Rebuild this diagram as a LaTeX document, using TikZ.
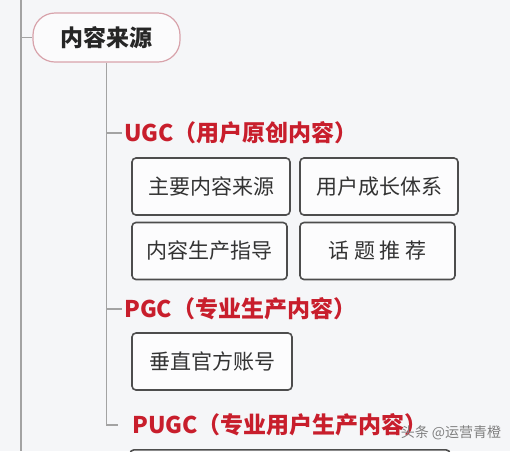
\documentclass[tikz,border=0pt]{standalone}
\usepackage{fontspec}
\newfontfamily\cjk{Noto Sans CJK SC}
\usepackage{tikz}
\definecolor{fondo}{HTML}{F5F6F8}
\definecolor{rama}{HTML}{A3A3A3}
\definecolor{rojo}{HTML}{C81E2C}
\definecolor{borde}{HTML}{D8A3AB}
\definecolor{caja}{HTML}{4D4D4D}
\tikzstyle{raiz}=[draw=borde, line width=1.2, rounded corners=22, fill=white!60!fondo, minimum width=147, minimum height=49, text=black!85, font=\cjk\bfseries\fontsize{23}{23}\selectfont]
\tikzstyle{etiqueta}=[anchor=west, inner sep=2, text=rojo, font=\cjk\bfseries\fontsize{23}{23}\selectfont]
\tikzstyle{hoja}=[draw=caja, line width=1.6, rounded corners=4, fill=white!70!fondo, minimum height=57, text=black!80, font=\cjk\fontsize{21}{21}\selectfont]
\tikzstyle{linea}=[draw=rama, line width=1.8]

\begin{document}
\begin{tikzpicture}[x=1pt, y=-1pt]
        \useasboundingbox (0,0) rectangle (510,451);
        \clip (0,0) rectangle (510,451);
        \fill[fondo] (0,0) rectangle (510,451);

        % nodos
        \coordinate (arriba) at (21,0);
        \coordinate (abajo) at (21,451);
        \node[raiz] (raiz) at (106.5,37.5) {内容来源};
        \node[etiqueta] (ugc) at (122,133) {UGC（用户原创内容）};
        \node[etiqueta] (pgc) at (122,309) {PGC（专业生产内容）};
        \node[etiqueta] (pugc) at (130,425) {PUGC（专业用户生产内容）};
        \node[hoja, minimum width=158] (fuente) at (211,186.5) {主要内容来源};
        \node[hoja, minimum width=158] (crecer) at (379,186.5) {用户成长体系};
        \node[hoja, minimum width=155] (guia) at (209.5,251) {内容生产指导};
        \node[hoja, minimum width=155] (tema) at (377.5,251) {话 题 推 荐};
        \node[hoja, minimum width=160] (cuenta) at (212,361.5) {垂直官方账号};
        \node[hoja, minimum width=320, anchor=north] (resto) at (290,449) {};
        \node[text=black!50, font=\cjk\fontsize{14}{14}\selectfont] (marca) at (451,433) {头条 @运营青橙};

        % ramas
        \draw[linea] (arriba) -- (abajo);
        \draw[linea] (raiz.west -| arriba) -- (raiz.west);
        \draw[linea, shorten >=12] (raiz.south) |- (pugc.west);
        \draw[linea] (raiz.south |- ugc.west) -- (ugc.west);
        \draw[linea] (raiz.south |- pgc.west) -- (pgc.west);
    \end{tikzpicture}
\end{document}
